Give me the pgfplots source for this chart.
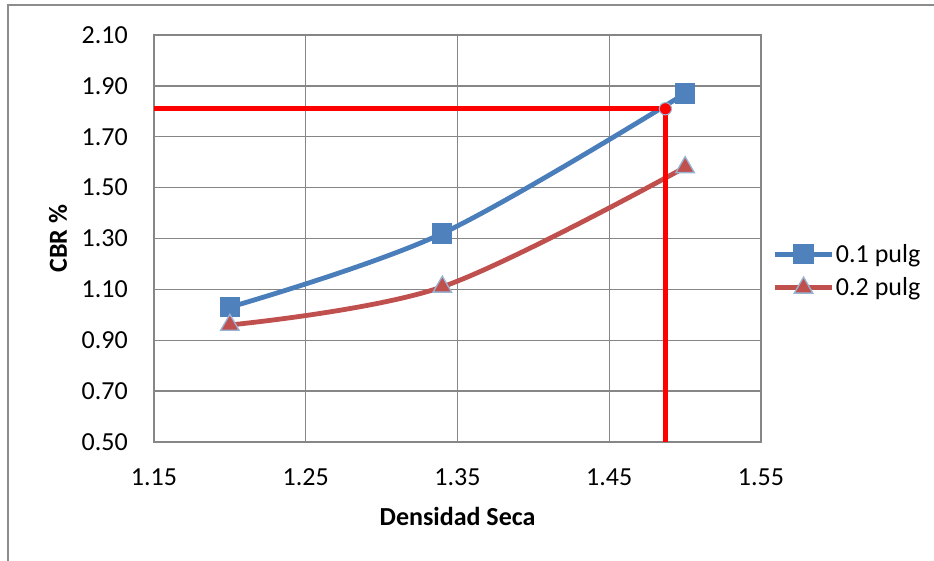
\documentclass[border=0pt]{standalone}
\usepackage{pgfplots}
\pgfplotsset{compat=1.18}
\usepackage{fontspec}
\setmainfont{Carlito}

\definecolor{serieA}{HTML}{4A7EBB}
\definecolor{serieAfill}{HTML}{4F81BD}
\definecolor{serieB}{HTML}{C0504D}
\definecolor{triedge}{HTML}{98B4D4}
\definecolor{gridgray}{HTML}{868686}
\definecolor{frame}{HTML}{8C8C8C}

\begin{document}
\begin{tikzpicture}
\useasboundingbox (0,0) rectangle (700.5pt,420pt);
% chart area border
\draw[frame, line width=1.2pt] (6pt,-20pt) rectangle (720pt,416.25pt);

\begin{axis}[
  at={(115.5pt,88.5pt)}, anchor=south west,
  scale only axis, width=455.25pt, height=305.25pt,
  xmin=1.15, xmax=1.55, ymin=0.5, ymax=2.1,
  xtick={1.15,1.25,1.35,1.45,1.55},
  xticklabels={1.15,1.25,1.35,1.45,1.55},
  ytick={0.5,0.7,0.9,1.1,1.3,1.5,1.7,1.9,2.1},
  yticklabels={0.50,0.70,0.90,1.10,1.30,1.50,1.70,1.90,2.10},
  major tick length=0pt,
  grid=major,
  major grid style={gridgray, line width=1.1pt},
  axis line style={gridgray, line width=1.1pt},
  font=\fontsize{19.5}{22}\selectfont,
  xticklabel style={anchor=north, inner sep=0pt, yshift=-20pt},
  yticklabel style={anchor=east, inner sep=0pt, xshift=-19.5pt},
  xlabel={\bfseries Densidad Seca},
  xlabel style={at={(axis description cs:0.5,-0.184)}, anchor=center, inner sep=0pt},
  clip=false,
  legend style={at={(axis description cs:1.0185,0.42)}, anchor=west,
    draw=none, fill=none, inner sep=0pt, row sep=8pt,
    nodes={inner sep=1pt}},
  legend cell align=left,
  legend image code/.code={
    \draw[mark repeat=2, mark phase=2] plot coordinates {(0pt,0pt) (21.5pt,0pt) (43pt,0pt)};
  },
]

\addplot[serieA, line width=3.6pt, smooth, tension=0.55,
  mark=square*, mark size=7.2pt,
  mark options={fill=serieAfill, draw=serieAfill, line width=0.8pt}]
  coordinates {(1.20,1.03) (1.34,1.32) (1.50,1.87)};
\addlegendentry{0.1 pulg}

\addplot[serieB, line width=3.6pt, smooth, tension=0.55,
  mark=triangle*, mark size=8pt,
  mark options={fill=serieB, draw=triedge, line width=1pt}]
  coordinates {(1.20,0.96) (1.34,1.11) (1.50,1.58)};
\addlegendentry{0.2 pulg}

% reading lines for CBR at the design density
\addplot[red, line width=3.5pt, forget plot]
  coordinates {(1.15,1.81) (1.487,1.81) (1.487,0.5)};
\addplot[only marks, mark=*, mark size=4.6pt,
  mark options={fill=red, draw=triedge, line width=0.8pt}, forget plot]
  coordinates {(1.487,1.81)};

% vertical axis title
\node[rotate=90, anchor=center, inner sep=0pt, font=\fontsize{19.5}{22}\selectfont\bfseries]
  at (axis description cs:-0.158,0.5) {CBR \%};

\end{axis}
\end{tikzpicture}
\end{document}
